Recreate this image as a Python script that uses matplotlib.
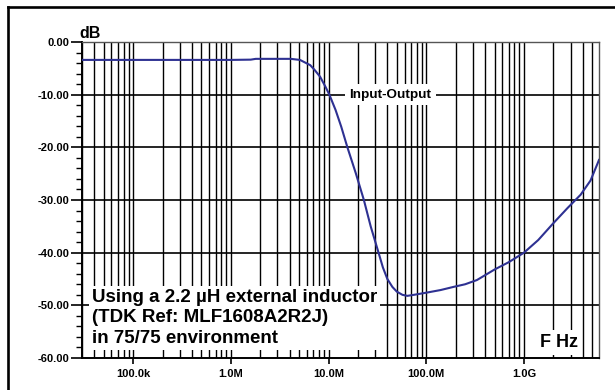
import matplotlib
matplotlib.use("Agg")
import matplotlib.pyplot as plt
from matplotlib.lines import Line2D
from matplotlib.ticker import FixedLocator, FixedFormatter, NullFormatter

plt.rcParams['font.family'] = ['Liberation Sans', 'DejaVu Sans']
plt.rcParams['font.weight'] = 'bold'

# ---- data ----
freq_hz = [30e3, 100e3, 300e3, 1e6, 1.6e6, 1.8e6, 3e6, 4.1e6, 5.1e6, 6.5e6, 7.2e6, 8.2e6,
           9.3e6, 10.2e6, 11.8e6, 13.5e6, 15.6e6, 19e6, 23e6, 27e6, 32.5e6, 36e6, 40e6,
           45e6, 50e6, 57e6, 64e6, 75e6, 100e6, 140e6, 190e6, 250e6, 330e6, 500e6,
           700e6, 1e9, 1.4e9, 2e9, 2.8e9, 3.8e9, 4.8e9, 5.86e9]
gain_db = [-3.4, -3.4, -3.4, -3.4, -3.35, -3.2, -3.2, -3.2, -3.4, -4.4, -5.3, -6.6,
           -8.5, -10.0, -12.9, -16.1, -20.0, -24.9, -30.0, -35.0, -40.0, -42.8, -45.0,
           -46.5, -47.4, -48.0, -48.2, -48.0, -47.6, -47.1, -46.5, -46.0, -45.2, -43.2,
           -41.8, -40.0, -37.6, -34.4, -31.5, -29.0, -26.3, -22.4]

x_major = [1e5, 1e6, 1e7, 1e8, 1e9]
x_major_labels = ["100.0k", "1.0M", "10.0M", "100.0M", "1.0G"]
y_major = [0, -10, -20, -30, -40, -50, -60]
y_major_labels = ["0.00", "-10.00", "-20.00", "-30.00", "-40.00", "-50.00", "-60.00"]
series_label = "Input-Output"
note_text = "Using a 2.2 \u00b5H external inductor\n(TDK Ref: MLF1608A2R2J)\nin 75/75 environment"

W, H = 615, 390
fig = plt.figure(figsize=(W / 100, H / 100), dpi=100)
ax = fig.add_axes([82 / W, 1 - 358 / H, (599 - 82) / W, (358 - 42) / H])
ax.set_xscale('log')
ax.set_xlim(30e3, 5.86e9)
ax.set_ylim(-60, 0)

# minor x positions (2..9 per decade) inside range
x_minor = []
for dec in [1e4, 1e5, 1e6, 1e7, 1e8, 1e9]:
    for m in range(2, 10):
        v = m * dec
        if 30e3 <= v <= 5.86e9:
            x_minor.append(v)

for v in x_minor + x_major:
    ax.axvline(v, color='black', lw=1.0, zorder=1)
for v in y_major[1:-1]:
    ax.axhline(v, color='black', lw=1.2, zorder=1)

ax.plot(freq_hz, gain_db, color='#2E3192', lw=1.5, zorder=3)

ax.xaxis.set_major_locator(FixedLocator(x_major))
ax.xaxis.set_major_formatter(FixedFormatter(x_major_labels))
ax.xaxis.set_minor_locator(FixedLocator(x_minor))
ax.xaxis.set_minor_formatter(NullFormatter())
ax.yaxis.set_major_locator(FixedLocator(y_major))
ax.yaxis.set_major_formatter(FixedFormatter(y_major_labels))
ax.yaxis.set_minor_locator(FixedLocator([v for v in range(-58, 0, 2) if v % 10 != 0]))

ax.tick_params(axis='x', which='major', direction='out', length=4, width=1.2,
               labelsize=8, pad=4)
ax.tick_params(axis='x', which='minor', length=0)
ax.tick_params(axis='y', which='major', direction='out', length=8, width=1.2,
               labelsize=8, pad=1)
ax.tick_params(axis='y', which='minor', direction='out', length=4, width=1.0)
for lab in ax.get_xticklabels() + ax.get_yticklabels():
    lab.set_fontweight('bold')

for s in ['left', 'bottom']:
    ax.spines[s].set_linewidth(1.4)
    ax.spines[s].set_color('black')
for s in ['top', 'right']:
    ax.spines[s].set_linewidth(1.0)
    ax.spines[s].set_color('#555555')

ax.text(4.3e7, -10, series_label, ha='center', va='center', fontsize=9.7,
        fontweight='bold', zorder=4,
        bbox=dict(facecolor='white', edgecolor='none', pad=3))
ax.text(3.8e4, -52.4, note_text, ha='left', va='center', fontsize=13.5,
        fontweight='bold', linespacing=1.27, zorder=4,
        bbox=dict(facecolor='white', edgecolor='none', pad=2))
ax.text(2.3e9, -57.1, "F Hz", ha='center', va='center', fontsize=13,
        fontweight='bold', zorder=4,
        bbox=dict(facecolor='white', edgecolor='none', pad=3))
fig.text(79 / W, 1 - 33 / H, "dB", ha='left', va='center', fontsize=11.5,
         fontweight='bold')

# outer frame (top and left)
fig.add_artist(Line2D([8 / W, 8 / W], [0, 1 - 7 / H], transform=fig.transFigure,
                      color='black', lw=1.9, solid_capstyle='projecting'))
fig.add_artist(Line2D([8 / W, 1], [1 - 7 / H, 1 - 7 / H], transform=fig.transFigure,
                      color='black', lw=1.9, solid_capstyle='projecting'))

fig.savefig("out.png", dpi=100)
